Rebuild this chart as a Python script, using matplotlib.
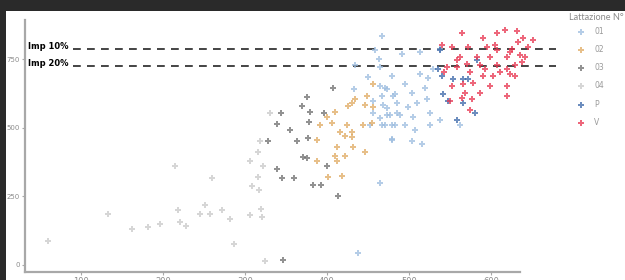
import matplotlib
matplotlib.use("Agg")
import matplotlib.pyplot as plt
from matplotlib.patches import Rectangle

# ---- data -------------------------------------------------------------
groups = ["01", "02", "03", "04", "P", "V"]
colors = ["#9dbde0", "#e0aa62", "#6e6e6e", "#c9c9c9", "#3b67a8", "#e8344f"]

x_04 = [60, 133, 162, 182, 196, 215, 218, 221, 228, 245, 251, 257, 260, 272, 282, 287,
        306, 306, 309, 316, 316, 317, 320, 321, 322, 324, 318, 330]
y_04 = [87, 186, 129, 136, 150, 359, 200, 157, 140, 186, 217, 186, 316, 200, 168, 76,
        182, 380, 288, 412, 320, 274, 203, 175, 359, 12, 451, 553]

x_03 = [407, 376, 370, 344, 379, 396, 339, 378, 355, 377, 363, 328, 371, 376, 339, 345,
        360, 383, 393, 400, 413, 346]
y_03 = [645, 613, 578, 553, 557, 553, 515, 522, 493, 461, 451, 451, 394, 391, 348, 316,
        316, 292, 292, 362, 249, 19]

x_02 = [456, 449, 434, 430, 426, 446, 456, 410, 400, 391, 406, 424, 444, 455, 416, 430,
        422, 430, 388, 412, 432, 446, 410, 422, 388, 412, 401, 418]
y_02 = [660, 617, 606, 589, 578, 582, 575, 557, 539, 511, 518, 511, 511, 518, 486, 486,
        468, 465, 454, 430, 430, 412, 398, 398, 380, 380, 320, 324]

x_01 = [467, 459, 463, 434, 450, 479, 433, 465, 473, 456, 467, 480, 473, 456, 465, 477,
        485, 467, 479, 452, 479, 465, 471, 483, 495, 504, 513, 523, 529, 520, 468, 485,
        499, 510, 522, 473, 489, 505, 526, 471, 483, 495, 507, 526, 504, 479, 516, 562,
        438, 491, 513, 538, 465, 538]
y_01 = [836, 783, 751, 730, 684, 688, 642, 652, 642, 599, 617, 617, 571, 553, 536, 546,
        553, 511, 511, 511, 458, 299, 645, 624, 660, 628, 695, 681, 713, 645, 582, 589,
        575, 589, 606, 546, 546, 539, 553, 511, 511, 511, 493, 511, 451, 454, 440, 511,
        44, 769, 776, 787, 723, 529]

x_P = [538, 535, 540, 554, 583, 566, 541, 548, 566, 559, 580, 572]
y_P = [783, 716, 688, 677, 748, 677, 624, 599, 589, 529, 553, 677]

x_V = [565, 590, 607, 617, 632, 639, 651, 633, 626, 607, 595, 572, 552, 540, 562, 583,
       599, 620, 635, 546, 559, 571, 587, 607, 620, 629, 638, 623, 602, 590, 578, 566,
       552, 599, 620, 568, 587, 565, 577, 550, 574, 620, 559, 543, 611, 629, 605, 623,
       593, 574, 645, 641]
y_V = [847, 829, 847, 857, 854, 829, 819, 811, 787, 783, 794, 794, 794, 801, 758, 758,
       758, 758, 765, 723, 723, 734, 730, 730, 716, 730, 741, 695, 688, 688, 663, 660,
       652, 652, 652, 628, 628, 610, 606, 599, 564, 617, 748, 705, 705, 688, 801, 776,
       713, 705, 794, 758]

xs = [x_01, x_02, x_03, x_04, x_P, x_V]
ys = [y_01, y_02, y_03, y_04, y_P, y_V]

x_ticks = [100, 200, 300, 400, 500, 600]
y_ticks = [0, 250, 500, 750]
thresholds = [788, 726]
threshold_labels = ["Imp 10%", "Imp 20%"]
legend_title = "Lattazione N°"

# ---- figure -----------------------------------------------------------
W, H = 625, 280
fig = plt.figure(figsize=(6.25, 2.8), dpi=100)
fig.patch.set_facecolor("#2a2a2a")
bg = Rectangle((6 / W, 0), 1 - 6 / W, 269 / H, transform=fig.transFigure,
               facecolor="white", edgecolor="none", zorder=-10)
fig.patches.append(bg)

ax = fig.add_axes([25 / W, 8 / H, (557 - 25) / W, (268 - 8 - 8) / H])
ax.set_zorder(5)
ax.set_facecolor("none")

for g, c, x, y in zip(groups, colors, xs, ys):
    ax.scatter(x, y, s=22, marker="P", color=c, alpha=0.75, linewidths=0, label=g, zorder=3)

ax.set_xlim(31.7, 680.5)
ax.set_ylim(-26.5, 893)

for t, lab in zip(thresholds, threshold_labels):
    ax.axhline(t, xmin=(73 - 25) / (557 - 25), xmax=(556 - 25) / (557 - 25),
               color="#444444", lw=1.4, dashes=(4, 3.2), zorder=2)
    ax.text(35, t + 8, lab, fontsize=6, fontweight="bold", color="black",
            va="center", ha="left")

for s in ["top", "right"]:
    ax.spines[s].set_visible(False)
for s in ["left", "bottom"]:
    ax.spines[s].set_color("#a8a8a8")
    ax.spines[s].set_linewidth(1.6)
ax.spines["bottom"].set_bounds(31.7, 635)

ax.set_xticks(x_ticks)
ax.set_yticks(y_ticks)
ax.tick_params(axis="both", colors="#a8a8a8", length=2, width=0.8,
               labelcolor="#8c8c8c")
ax.tick_params(axis="y", labelsize=5, pad=1.5)
ax.tick_params(axis="x", labelsize=6, pad=1.5)

leg = ax.legend(loc="upper left", bbox_to_anchor=(573 / W, 1 - 27 / H),
                bbox_transform=fig.transFigure, frameon=False, fontsize=5.5,
                labelspacing=1.2, handletextpad=0.8, handlelength=2.0,
                borderpad=0, borderaxespad=0, markerscale=1.0)
for txt in leg.get_texts():
    txt.set_color("#9a9a9a")
fig.text(624 / W, 1 - 18 / H, legend_title, fontsize=6.6,
         family=["Liberation Sans Narrow", "Lato", "DejaVu Sans"],
         color="#8a8a8a", ha="right", va="center")

fig.savefig("out.png", dpi=100, facecolor=fig.get_facecolor())
